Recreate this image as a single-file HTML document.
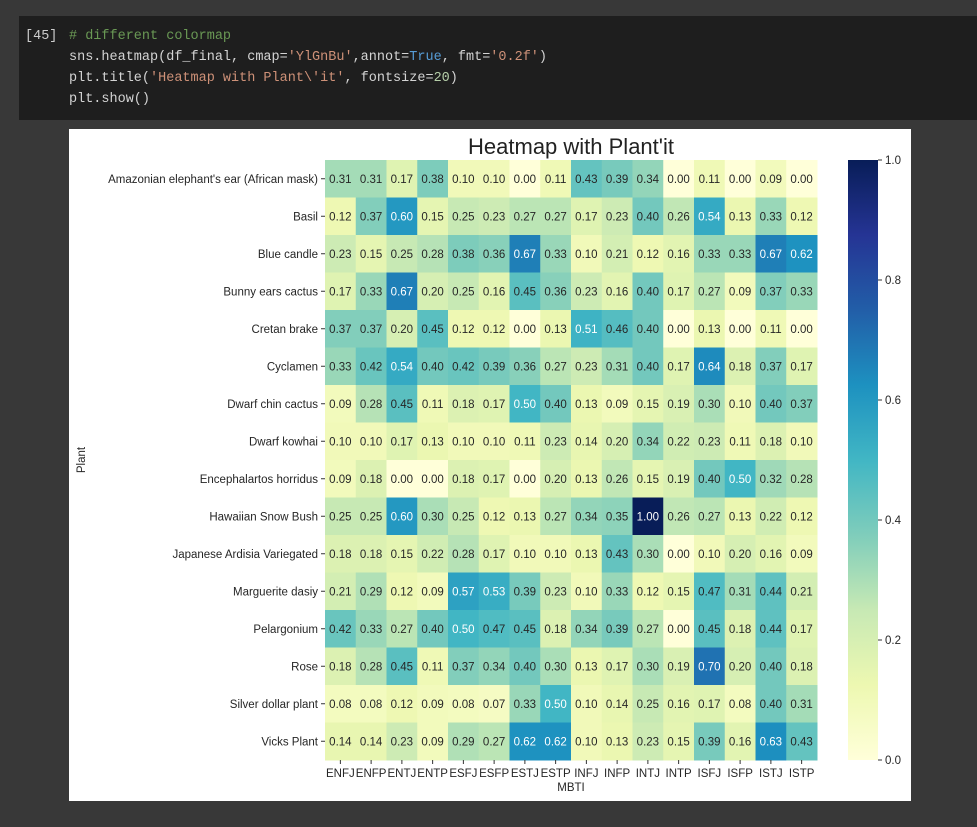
<!DOCTYPE html>
<html><head><meta charset="utf-8"><style>
body{margin:0;background:#383838;width:977px;height:827px;overflow:hidden;font-family:"Liberation Sans","DejaVu Sans",sans-serif}
#code{position:absolute;left:19px;top:16px;width:958px;height:104px;background:#1e1e1e;font-family:"Liberation Mono","DejaVu Sans Mono",monospace;font-size:13.5px;color:#d4d4d4}
#code div{position:absolute;left:50px;white-space:pre}
#fig{position:absolute;left:69px;top:129px;width:842px;height:672px;background:#fff}
</style></head><body>
<div id="code">
<div style="left:6px;top:13px;color:#ccc">[45]</div>
<div style="top:13px;color:#6a9955"># different colormap</div>
<div style="top:34px">sns.heatmap(df_final, cmap=<span style="color:#ce9178">'YlGnBu'</span>,annot=<span style="color:#569cd6">True</span>, fmt=<span style="color:#ce9178">'0.2f'</span>)</div>
<div style="top:55px">plt.title(<span style="color:#ce9178">'Heatmap with Plant\'it'</span>, fontsize=<span style="color:#b5cea8">20</span>)</div>
<div style="top:76px">plt.show()</div>
</div>
<div id="fig">
<svg id="svg" width="842" height="672" xmlns="http://www.w3.org/2000/svg" font-family="Liberation Sans, DejaVu Sans, sans-serif"></svg>
</div>
<script>
const rows=["Amazonian elephant's ear (African mask)","Basil","Blue candle","Bunny ears cactus","Cretan brake","Cyclamen","Dwarf chin cactus","Dwarf kowhai","Encephalartos horridus","Hawaiian Snow Bush","Japanese Ardisia Variegated","Marguerite dasiy","Pelargonium","Rose","Silver dollar plant","Vicks Plant"];
const cols=["ENFJ","ENFP","ENTJ","ENTP","ESFJ","ESFP","ESTJ","ESTP","INFJ","INFP","INTJ","INTP","ISFJ","ISFP","ISTJ","ISTP"];
const values=[
[0.31,0.31,0.17,0.38,0.10,0.10,0.00,0.11,0.43,0.39,0.34,0.00,0.11,0.00,0.09,0.00],
[0.12,0.37,0.60,0.15,0.25,0.23,0.27,0.27,0.17,0.23,0.40,0.26,0.54,0.13,0.33,0.12],
[0.23,0.15,0.25,0.28,0.38,0.36,0.67,0.33,0.10,0.21,0.12,0.16,0.33,0.33,0.67,0.62],
[0.17,0.33,0.67,0.20,0.25,0.16,0.45,0.36,0.23,0.16,0.40,0.17,0.27,0.09,0.37,0.33],
[0.37,0.37,0.20,0.45,0.12,0.12,0.00,0.13,0.51,0.46,0.40,0.00,0.13,0.00,0.11,0.00],
[0.33,0.42,0.54,0.40,0.42,0.39,0.36,0.27,0.23,0.31,0.40,0.17,0.64,0.18,0.37,0.17],
[0.09,0.28,0.45,0.11,0.18,0.17,0.50,0.40,0.13,0.09,0.15,0.19,0.30,0.10,0.40,0.37],
[0.10,0.10,0.17,0.13,0.10,0.10,0.11,0.23,0.14,0.20,0.34,0.22,0.23,0.11,0.18,0.10],
[0.09,0.18,0.00,0.00,0.18,0.17,0.00,0.20,0.13,0.26,0.15,0.19,0.40,0.50,0.32,0.28],
[0.25,0.25,0.60,0.30,0.25,0.12,0.13,0.27,0.34,0.35,1.00,0.26,0.27,0.13,0.22,0.12],
[0.18,0.18,0.15,0.22,0.28,0.17,0.10,0.10,0.13,0.43,0.30,0.00,0.10,0.20,0.16,0.09],
[0.21,0.29,0.12,0.09,0.57,0.53,0.39,0.23,0.10,0.33,0.12,0.15,0.47,0.31,0.44,0.21],
[0.42,0.33,0.27,0.40,0.50,0.47,0.45,0.18,0.34,0.39,0.27,0.00,0.45,0.18,0.44,0.17],
[0.18,0.28,0.45,0.11,0.37,0.34,0.40,0.30,0.13,0.17,0.30,0.19,0.70,0.20,0.40,0.18],
[0.08,0.08,0.12,0.09,0.08,0.07,0.33,0.50,0.10,0.14,0.25,0.16,0.17,0.08,0.40,0.31],
[0.14,0.14,0.23,0.09,0.29,0.27,0.62,0.62,0.10,0.13,0.23,0.15,0.39,0.16,0.63,0.43]];
const cbTicks=[0,0.2,0.4,0.6,0.8,1.0];
const stops=["#ffffd9","#edf8b1","#c7e9b4","#7fcdbb","#41b6c4","#1d91c0","#225ea8","#253494","#081d58"];
function hx(h){return [1,3,5].map(i=>parseInt(h.substr(i,2),16));}
function cmap(v){v=Math.max(0,Math.min(1,v));const p=v*(stops.length-1);const i=Math.min(Math.floor(p),stops.length-2);const t=p-i;const a=hx(stops[i]),b=hx(stops[i+1]);return `rgb(${a.map((x,k)=>Math.round(x+(b[k]-x)*t)).join(',')})`;}
const L=256,T=31,W=492,H=600,cw=W/cols.length,rh=H/rows.length;
const xS=j=>L+j*cw, yS=i=>T+i*rh;
const cbX=779,cbW=30,cbY=v=>T+H-v*H;
const NS="http://www.w3.org/2000/svg";const svg=document.getElementById('svg');
function mk(tag,attrs,txt){const e=document.createElementNS(NS,tag);for(const k in attrs)e.setAttribute(k,attrs[k]);if(txt!==undefined)e.textContent=txt;svg.appendChild(e);return e;}
let e=mk('text',{x:L+W/2,y:25,'text-anchor':'middle','font-size':22,fill:'#222'},"Heatmap with Plant'it");


rows.forEach((r,i)=>{cols.forEach((c,j)=>{const v=values[i][j];
const rc=mk('rect',{x:xS(j),y:yS(i),width:cw+0.5,height:rh+0.5,fill:cmap(v)});


const t=mk('text',{x:xS(j)+cw/2,y:yS(i)+rh/2+4,'text-anchor':'middle','font-size':11.5,fill:v>=0.48?'#fff':'#262626'},v.toFixed(2));

});
const tk=mk('line',{x1:L-4,x2:L,y1:yS(i)+rh/2,y2:yS(i)+rh/2,stroke:'#333'});


const lb=mk('text',{x:L-7,y:yS(i)+rh/2+4,'text-anchor':'end','font-size':11.5,fill:'#262626'},r);

});
cols.forEach((c,j)=>{const tk=mk('line',{x1:xS(j)+cw/2,x2:xS(j)+cw/2,y1:T+H,y2:T+H+4,stroke:'#333'});


const lb=mk('text',{x:xS(j)+cw/2,y:T+H+17,'text-anchor':'middle','font-size':11.5,fill:'#262626'},c);

});
e=mk('text',{x:L+W/2,y:T+H+31,'text-anchor':'middle','font-size':11.5,fill:'#262626'},'MBTI');


e=mk('text',{x:0,y:0,'text-anchor':'middle','font-size':11.5,fill:'#262626',transform:`translate(16,${T+H/2}) rotate(-90)`},'Plant');


const defs=mk('defs',{});const g=document.createElementNS(NS,'linearGradient');g.setAttribute('id','cbg');g.setAttribute('x1','0');g.setAttribute('y1','1');g.setAttribute('x2','0');g.setAttribute('y2','0');defs.appendChild(g);
stops.forEach((s,k)=>{const st=document.createElementNS(NS,'stop');st.setAttribute('offset',k/(stops.length-1));st.setAttribute('stop-color',s);g.appendChild(st);});
e=mk('rect',{x:cbX,y:T,width:cbW,height:H,fill:'url(#cbg)'});


cbTicks.forEach(v=>{const tk=mk('line',{x1:cbX+cbW,x2:cbX+cbW+4,y1:cbY(v),y2:cbY(v),stroke:'#333'});


const lb=mk('text',{x:cbX+cbW+7,y:cbY(v)+4,'font-size':11.5,fill:'#262626'},v.toFixed(1));

});
</script>
</body></html>
